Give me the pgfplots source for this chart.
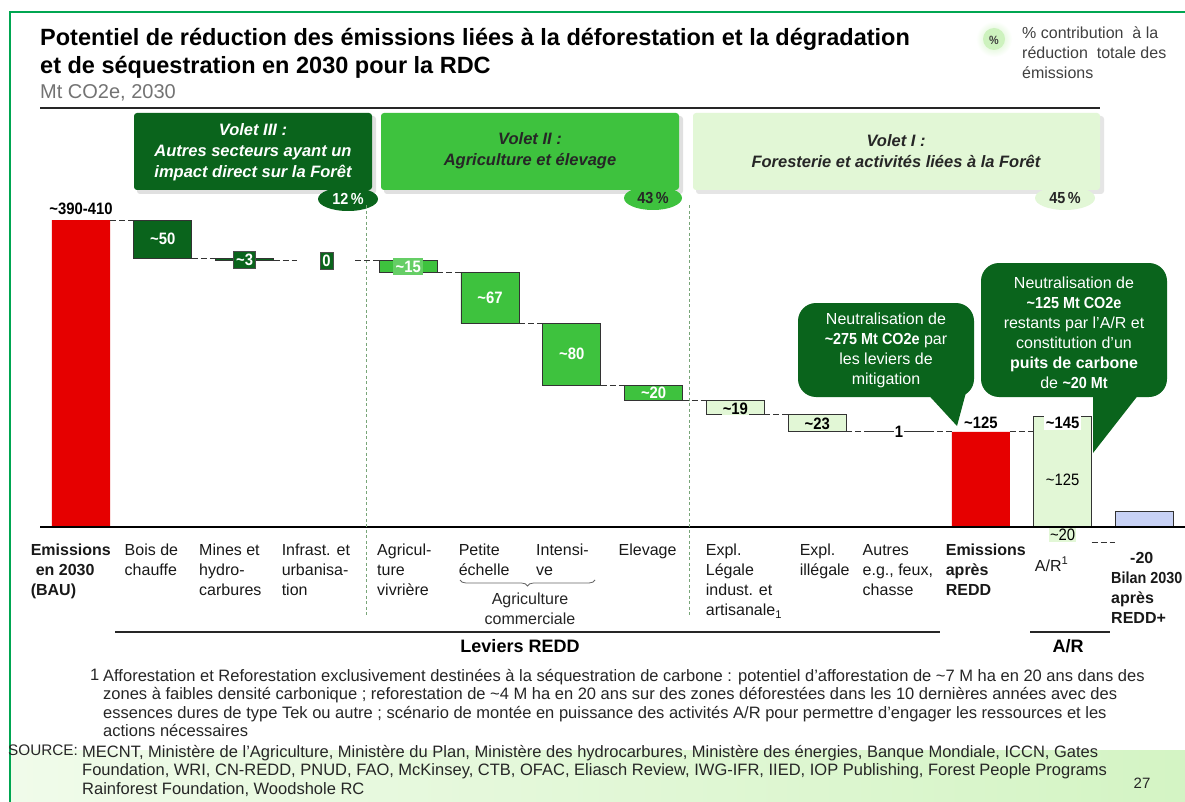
\documentclass[border=0pt]{standalone}
\usepackage{fontspec}
\setmainfont{Liberation Sans}
\newfontfamily\narrow{Liberation Sans}[FakeStretch=0.9]
\usepackage{pgfplots}
\pgfplotsset{compat=1.18}
\usepackage{pgfplotstable}
\usetikzlibrary{decorations.pathreplacing}

\definecolor{dkgreen}{RGB}{10,100,28}
\definecolor{mdgreen}{RGB}{62,194,62}
\definecolor{ltgreen}{RGB}{226,247,214}
\definecolor{wfred}{RGB}{230,0,0}
\definecolor{wfblue}{RGB}{200,210,245}
\definecolor{framegreen}{RGB}{0,166,81}
\definecolor{sepgreen}{RGB}{120,165,120}
\definecolor{bandL}{RGB}{240,251,234}
\definecolor{bandR}{RGB}{212,244,196}
\definecolor{legcirc}{RGB}{205,242,190}
\newcommand{\tl}{\textasciitilde}
\newcommand{\fs}[2]{\fontsize{#1}{#2}\selectfont}
\newcommand{\dn}[2]{\raisebox{-#1}[\height][0pt]{#2}}

% waterfall: invisible base + visible segment per colour group (Mt CO2e)
\pgfplotstableread{
x  base dk md lt bl rd
0  0    0  0  0   0  400
1  350  50 0  0   0  0
2  347  3  0  0   0  0
3  347  0  0  0   0  0
4  332  0  15 0   0  0
5  265  0  67 0   0  0
6  185  0  80 0   0  0
7  165  0  20 0   0  0
8  146  0  0  19  0  0
9  125  0  0  21  0  0
10 124  0  0  1   0  0
11 0    0  0  0   0  124
12 -20  0  0  144 0  0
13 -20  0  0  0   20 0
}\wf

\pgfplotsset{wfaxis/.style={scale only axis, width=1145.2pt, height=353.05pt,
  xmin=-0.5, xmax=13.5, ymin=-40, ymax=420, clip=false,
  at={(40.1pt,-557.7pt)}, anchor=south west}}

\begin{document}
\begin{tikzpicture}
\path[use as bounding box] (0pt,0pt) rectangle (1185pt,-802pt);
\fill[white] (0pt,0pt) rectangle (1185pt,-802pt);
\begin{scope}[x=1pt,y=-1pt]
 \shade[left color=bandL, right color=bandR] (11,750) rectangle (1185,802);
 \draw[framegreen, line width=2pt] (10,802) -- (10,12) -- (1185,12);
 % title
 \node[anchor=base west, inner sep=0, font=\fs{23.5}{28}\bfseries] at (40,46) {Potentiel de réduction des émissions liées à la déforestation et la dégradation};
 \node[anchor=base west, inner sep=0, font=\fs{23.5}{28}\bfseries] at (40,74) {et de séquestration en 2030 pour la RDC};
 \node[anchor=base west, inner sep=0, font=\fs{20}{22}, text=black!55] at (40,99) {Mt CO2e, 2030};
 \draw[black!85, line width=1.2pt] (40,108) -- (1100,108);
 % legend
 \shade[inner color=legcirc, outer color=white] (994,39) circle (18);
 \fill[legcirc] (994,39) circle (11);
 \node[font=\narrow\fs{12}{13}\bfseries, text=black!75] at (994,40) {\%};
 \node[anchor=north west, align=left, inner sep=0, font=\fs{16}{20}, text=black!75] at (1022,27) {\% contribution\ \ à la\\réduction\ \ totale des\\émissions};
 % volet boxes
 \fill[black!12, rounded corners=3pt] (137,116) rectangle (376,194);
 \fill[dkgreen, rounded corners=3pt] (134,113) rectangle (372,190);
 \fill[black!12, rounded corners=3pt] (384,116) rectangle (683,194);
 \fill[mdgreen, rounded corners=3pt] (381,113) rectangle (679,190);
 \fill[black!10, rounded corners=3pt] (696,116) rectangle (1104,194);
 \fill[ltgreen, rounded corners=3pt] (693,113) rectangle (1100,190);
 \node[align=center, text=white, font=\fs{16.5}{21}\bfseries\itshape] at (253,152) {Volet III :\\Autres secteurs ayant un\\impact direct sur la Forêt};
 \node[align=center, text=black!85, font=\fs{16.5}{21}\bfseries\itshape] at (530,151) {Volet II :\\Agriculture et élevage};
 \node[align=center, text=black!85, font=\fs{16.5}{21}\bfseries\itshape] at (896,151) {Volet I :\\Foresterie et activités liées à la Forêt};
 \fill[dkgreen] (348,199) ellipse (30 and 12);
 \node[text=white, font=\narrow\fs{16}{18}\bfseries] at (348,199) {12\,\%};
 \fill[mdgreen] (653,198) ellipse (29 and 12);
 \node[text=black!85, font=\narrow\fs{16}{18}\bfseries] at (653,198) {43\,\%};
 \fill[ltgreen] (1065,198) ellipse (30 and 12);
 \node[text=black!85, font=\narrow\fs{16}{18}\bfseries] at (1065,198) {45\,\%};
 % brace and group labels
 \draw[decorate, decoration={brace, mirror, amplitude=6pt}, black!60, line width=0.8pt] (460,580) -- (595,580);
 \node[align=center, font=\fs{16}{20}, text=black!85] at (530,609) {Agriculture\\commerciale};
 \draw[black!85, line width=1.5pt] (115,632) -- (940,632);
 \node[font=\fs{18}{22}\bfseries] at (520,646) {Leviers REDD};
 \draw[black!85, line width=1.5pt] (1030,632) -- (1110,632);
 \node[font=\fs{18}{22}\bfseries] at (1068,646) {A/R};
 % footnote and source
 \node[anchor=north west, inner sep=0, font=\fs{16.5}{18.5}, text=black!85] at (90,669) {1};
 \node[anchor=north west, inner sep=0, align=left, font=\fs{16.5}{18.5}, text=black!85] at (103,669) {Afforestation et Reforestation exclusivement destinées à la séquestration de carbone : potentiel d'afforestation de \tl 7 M ha en 20 ans dans des\\zones à faibles densité carbonique ; reforestation de \tl 4 M ha en 20 ans sur des zones déforestées dans les 10 dernières années avec des\\essences dures de type Tek ou autre ; scénario de montée en puissance des activités A/R pour permettre d'engager les ressources et les\\actions nécessaires};
 \node[anchor=north west, inner sep=0, font=\fs{15.3}{18.5}, text=black!85] at (8,745) {SOURCE:};
 \node[anchor=north west, inner sep=0, align=left, font=\fs{16.5}{18.5}, text=black!85] at (82,745) {MECNT, Ministère de l'Agriculture, Ministère du Plan, Ministère des hydrocarbures, Ministère des énergies, Banque Mondiale, ICCN, Gates\\Foundation, WRI, CN-REDD, PNUD, FAO, McKinsey, CTB, OFAC, Eliasch Review, IWG-IFR, IIED, IOP Publishing, Forest People Programs\\Rainforest Foundation, Woodshole RC};
 \node[font=\fs{15}{18}, text=black!85] at (1142,783) {27};
\end{scope}

% bars
\begin{axis}[wfaxis, hide axis, ybar stacked, bar width=0.71]
\addplot[draw=none, fill=none] table[x=x, y=base] {\wf};
\addplot[fill=dkgreen, draw=black!80, line width=0.9pt] table[x=x, y=dk] {\wf};
\addplot[fill=mdgreen, draw=black!80, line width=0.9pt] table[x=x, y=md] {\wf};
\addplot[fill=ltgreen, draw=black!80, line width=0.9pt] table[x=x, y=lt] {\wf};
\addplot[fill=wfblue, draw=black!80, line width=0.9pt] table[x=x, y=bl] {\wf};
\addplot[fill=wfred, draw=none] table[x=x, y=rd] {\wf};
\end{axis}

% connectors, separators, value labels, category labels
\begin{axis}[wfaxis, hide y axis, axis x line*=bottom, x axis line style={draw=none},
  major tick length=0pt,
  xtick={-0.5,0.532,1.443,2.452,3.619,4.616,5.562,6.571,7.637,8.785,9.554,10.570,11.660,12.592},
  xticklabels={
   {\hspace*{-9.5pt}\textbf{Emissions}\\\hspace*{-4.5pt}\textbf{en 2030}\\\hspace*{-9.5pt}\textbf{(BAU)}},
   {Bois de\\chauffe},
   {Mines et\\hydro-\\carbures},
   {Infrast. et\\urbanisa-\\tion},
   {Agricul-\\ture\\vivrière},
   {Petite\\échelle},
   {Intensi-\\ve},
   {Elevage},
   {Expl.\\Légale\\indust. et\\artisanale\textsubscript{1}},
   {Expl.\\illégale},
   {Autres\\e.g.{,} feux{,}\\chasse},
   {\textbf{Emissions}\\\textbf{après}\\\textbf{REDD}},
   {\dn{13pt}{A/R\textsuperscript{1}}},
   {\dn{8pt}{\hspace*{19pt}\textbf{-20}}\\\dn{8pt}{\textbf{\narrow Bilan 2030}}\\\dn{8pt}{\textbf{après}}\\\dn{8pt}{\textbf{REDD+}}}},
  xticklabel style={anchor=north west, align=left, inner sep=0pt, yshift=13.7pt,
    font=\fs{16}{20}, text=black!90}]
\addplot[black, line width=2pt] coordinates {(-0.5,0) (13.5,0)};
\addplot[sepgreen, dash pattern=on 3pt off 2.5pt, line width=0.8pt] coordinates {(3.484,419) (3.484,-118)};
\addplot[sepgreen, dash pattern=on 3pt off 2.5pt, line width=0.8pt] coordinates {(7.433,419) (7.433,-118)};
\addplot[black!80, dash pattern=on 6pt off 3pt, line width=1pt] coordinates {(0.355,400) (0.645,400)};
\addplot[black!80, dash pattern=on 6pt off 3pt, line width=1pt] coordinates {(1.355,350) (1.645,350)};
\addplot[black!80, dash pattern=on 6pt off 3pt, line width=1pt] coordinates {(2.355,347) (2.645,347)};
\addplot[black!80, dash pattern=on 6pt off 3pt, line width=1pt] coordinates {(3.355,347) (3.645,347)};
\addplot[black!80, dash pattern=on 6pt off 3pt, line width=1pt] coordinates {(4.355,332) (4.645,332)};
\addplot[black!80, dash pattern=on 6pt off 3pt, line width=1pt] coordinates {(5.355,265) (5.645,265)};
\addplot[black!80, dash pattern=on 6pt off 3pt, line width=1pt] coordinates {(6.355,185) (6.645,185)};
\addplot[black!80, dash pattern=on 6pt off 3pt, line width=1pt] coordinates {(7.355,165) (7.645,165)};
\addplot[black!80, dash pattern=on 6pt off 3pt, line width=1pt] coordinates {(8.355,146) (8.645,146)};
\addplot[black!80, dash pattern=on 6pt off 3pt, line width=1pt] coordinates {(9.355,125) (9.645,125)};
\addplot[black!80, dash pattern=on 6pt off 3pt, line width=1pt] coordinates {(10.355,124) (10.645,124)};
\addplot[black!80, dash pattern=on 6pt off 3pt, line width=1pt] coordinates {(11.355,124) (11.645,124)};
\addplot[black!80, dash pattern=on 6pt off 3pt, line width=1pt] coordinates {(12.355,-20) (12.645,-20)};
% value labels
\node[anchor=south, font=\narrow\fs{16.5}{18}\bfseries] at (axis cs:0,402) {\tl 390-410};
\node[text=white, font=\narrow\fs{16.5}{18}\bfseries] at (axis cs:1,375) {\tl 50};
\node[fill=dkgreen, draw=black!70, text=white, inner sep=2.5pt, font=\narrow\fs{16.5}{18}\bfseries] at (axis cs:2,348.5) {\tl 3};
\node[fill=dkgreen, draw=black!70, text=white, inner sep=2.5pt, font=\narrow\fs{16.5}{18}\bfseries] at (axis cs:3,347) {0};
\node[fill=mdgreen!80!white, text=white, inner sep=2.5pt, font=\narrow\fs{16.5}{18}\bfseries] at (axis cs:4,339.5) {\tl 15};
\node[text=white, font=\narrow\fs{16.5}{18}\bfseries] at (axis cs:5,298.5) {\tl 67};
\node[text=white, font=\narrow\fs{16.5}{18}\bfseries] at (axis cs:6,225) {\tl 80};
\node[text=white, font=\narrow\fs{16.5}{18}\bfseries] at (axis cs:7,175) {\tl 20};
\node[fill=ltgreen, inner sep=1pt, font=\narrow\fs{16.5}{18}\bfseries] at (axis cs:8,154.5) {\tl 19};
\node[fill=ltgreen, inner sep=1pt, font=\narrow\fs{16.5}{18}\bfseries] at (axis cs:9,135) {\tl 23};
\node[fill=white, inner sep=1pt, font=\narrow\fs{16.5}{18}\bfseries] at (axis cs:10,124.5) {1};
\node[anchor=south, fill=white, inner sep=1.5pt, font=\narrow\fs{16.5}{18}\bfseries] at (axis cs:11,126) {\tl 125};
\node[anchor=south, fill=white, inner sep=1.5pt, font=\narrow\fs{16.5}{18}\bfseries] at (axis cs:12,126) {\tl 145};
\node[font=\narrow\fs{16.5}{18}] at (axis cs:12,62) {\tl 125};
\node[fill=ltgreen, inner sep=1pt, font=\narrow\fs{16.5}{18}] at (axis cs:12,-10) {\tl 20};
\end{axis}

% callouts
\begin{scope}[x=1pt,y=-1pt]
 \fill[dkgreen, rounded corners=18pt] (798,303) rectangle (974,397);
 \fill[dkgreen] (922,388) -- (957,426) -- (972,370) -- cycle;
 \node[align=center, text=white, font=\fs{16}{20}] at (886,350) {Neutralisation de\\\textbf{\narrow\tl 275 Mt CO2e} par\\les leviers de\\mitigation};
 \fill[dkgreen, rounded corners=18pt] (981,263) rectangle (1167,397);
 \fill[dkgreen] (1093,380) -- (1093,453) -- (1150,380) -- cycle;
 \node[align=center, text=white, font=\fs{16}{20}] at (1074,333) {Neutralisation de\\\textbf{\narrow\tl 125 Mt CO2e}\\restants par l'A/R et\\constitution d'un\\\textbf{puits de carbone}\\de \textbf{\narrow\tl 20 Mt}};
\end{scope}
\end{tikzpicture}
\end{document}
